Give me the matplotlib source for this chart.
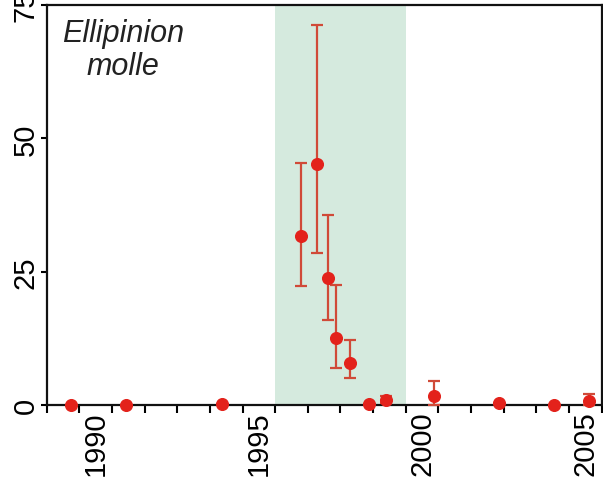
import matplotlib
matplotlib.use("Agg")
import matplotlib.pyplot as plt
import numpy as np

plt.rcParams['font.family'] = ['Liberation Sans', 'DejaVu Sans']

# Sampling dates (decimal years) and density estimates with error limits
years = [1989.75, 1991.42, 1994.36, 1996.78, 1997.29, 1997.62, 1997.86,
         1998.29, 1998.87, 1999.38, 2000.86, 2002.85, 2004.54, 2005.62]
density = [0.0, 0.0, 0.1, 31.7, 45.2, 23.8, 12.5, 7.8, 0.1, 0.9, 1.6, 0.3, 0.0, 0.75]
lower = [0.0, 0.0, 0.1, 22.2, 28.5, 15.9, 6.9, 5.0, 0.1, 0.3, 0.0, 0.3, 0.0, 0.0]
upper = [0.0, 0.0, 0.1, 45.4, 71.3, 35.6, 22.5, 12.1, 0.1, 1.6, 4.4, 0.3, 0.0, 2.0]

# Highlighted period
period = (1996.0, 2000.0)

year_labels = [1990, 1995, 2000, 2005]
y_ticks = [0, 25, 50, 75]

species = "Ellipinion\nmolle"

fig = plt.figure(figsize=(6.03, 4.81), dpi=100)
ax = fig.add_axes([0.0774, 0.1566, 0.9204, 0.8305])

ax.axvspan(period[0], period[1], color='#d5eade', zorder=0, lw=0)

d = np.array(density)
yerr = np.vstack([d - np.array(lower), np.array(upper) - d])
ax.errorbar(years, density, yerr=yerr, fmt='o', color='#e3221b',
            markersize=8.4, ecolor='#d04a38', elinewidth=1.6,
            capsize=4, capthick=1.6, clip_on=False, zorder=3)

ax.set_xlim(1989, 2006)
ax.set_ylim(0, 75)

# Year ticks at boundaries, labels centred within each year
ax.set_xticks(np.arange(1989, 2007))
ax.set_xticklabels([])
ax.set_xticks([y + 0.5 for y in year_labels], minor=True)
ax.set_xticklabels([str(y) for y in year_labels], minor=True,
                   rotation=90, fontsize=21, va='top', ha='center')
ax.tick_params(axis='x', which='major', direction='out', length=5.5, width=1.5)
ax.tick_params(axis='x', which='minor', length=0, pad=4)

ax.set_yticks(y_ticks)
ax.set_yticklabels([str(v) for v in y_ticks], rotation=90, fontsize=21,
                   va='center', ha='right')
ax.tick_params(axis='y', direction='out', length=4, width=1.5, pad=1)

for s in ax.spines.values():
    s.set_linewidth(1.6)
    s.set_color('#111111')
    s.set_zorder(2)

ax.text(0.1375, 0.967, species, transform=ax.transAxes, fontsize=22,
        style='italic', ha='center', va='top', color='#222222',
        linespacing=1.13)

fig.savefig('out.png', dpi=100)
